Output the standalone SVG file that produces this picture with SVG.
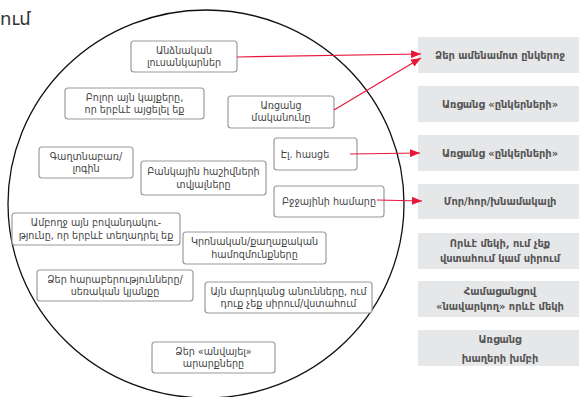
<svg xmlns="http://www.w3.org/2000/svg" width="579" height="397" viewBox="0 0 579 397">
<style>
.bx{fill:#fff;stroke:#9a9a9a;stroke-width:1.2}
.gb{fill:#e6e7e8}
.t{font-family:"DejaVu Sans","Noto Sans",sans-serif;font-size:9.6px;fill:#444;text-anchor:middle}
.g{font-family:"DejaVu Sans","Noto Sans",sans-serif;font-size:9.9px;font-weight:bold;fill:#555;text-anchor:middle}
.c{stroke:#e8173a;stroke-width:1.2;fill:none;marker-end:url(#ah)}
</style>
<defs>
<marker id="ah" viewBox="0 0 10 8" refX="10" refY="4" markerWidth="10" markerHeight="8" markerUnits="userSpaceOnUse" orient="auto">
<path d="M0,0 L10,4 L0,8 z" fill="#e8173a"/>
</marker>
</defs>
<rect width="579" height="397" fill="#fff"/>
<text x="0" y="25" font-family="DejaVu Sans,sans-serif" font-size="18" fill="#333">ում</text>
<ellipse cx="206" cy="204" rx="198" ry="194" fill="none" stroke="#111" stroke-width="1.3"/>

<g id="n1"><rect class="bx" x="131" y="41" width="106" height="31" rx="3"/><text class="t" x="184" y="54">Անձնական</text><text class="t" x="184" y="66">լուսանկարներ</text></g>
<g id="n2"><rect class="bx" x="65" y="88" width="139" height="31" rx="3"/><text class="t" x="134.5" y="101">Բոլոր այն կայքերը,</text><text class="t" x="134.5" y="113">որ երբևէ այցելել եք</text></g>
<g id="n3"><rect class="bx" x="228" y="96" width="106" height="32" rx="3"/><text class="t" x="281" y="109">Առցանց</text><text class="t" x="281" y="121">մականունը</text></g>
<g id="n4"><rect class="bx" x="274" y="138" width="83" height="32" rx="3"/><text class="t" x="305" y="158">Էլ. հասցե</text></g>
<g id="n5"><rect class="bx" x="274" y="186" width="110" height="31" rx="3"/><text class="t" x="329" y="205">Բջջայինի համարը</text></g>
<g id="n6"><rect class="bx" x="39" y="147" width="94" height="31" rx="3"/><text class="t" x="86" y="160">Գաղտնաբառ/</text><text class="t" x="86" y="172">լոգին</text></g>
<g id="n7"><rect class="bx" x="141" y="161" width="125" height="34" rx="3"/><text class="t" x="203.5" y="175">Բանկային հաշիվների</text><text class="t" x="203.5" y="188">տվյալները</text></g>
<g id="n8"><rect class="bx" x="12" y="213" width="168" height="32" rx="3"/><text class="t" x="96" y="226">Ամբողջ այն բովանդակու-</text><text class="t" x="96" y="239">թյունը, որ երբևէ տեղադրել եք</text></g>
<g id="n9"><rect class="bx" x="183" y="232" width="143" height="32" rx="3"/><text class="t" x="254.5" y="245">Կրոնական/քաղաքական</text><text class="t" x="254.5" y="258">համոզմունքները</text></g>
<g id="n10"><rect class="bx" x="37" y="270" width="156" height="31" rx="3"/><text class="t" x="115" y="283">Ձեր հարաբերությունները/</text><text class="t" x="115" y="295">սեռական կյանքը</text></g>
<g id="n11"><rect class="bx" x="205" y="282" width="167" height="31" rx="3"/><text class="t" x="288.5" y="295">Այն մարդկանց անունները, ում</text><text class="t" x="288.5" y="307">դուք չեք սիրում/վստահում</text></g>
<g id="n12"><rect class="bx" x="152" y="342" width="123" height="31" rx="3"/><text class="t" x="213.5" y="355">Ձեր «անվայել»</text><text class="t" x="213.5" y="367">արարքները</text></g>

<g id="r1"><rect class="gb" x="418" y="37" width="161" height="36"/><text class="g" x="500" y="58.5">Ձեր ամենամոտ ընկերոջ</text></g>
<g id="r2"><rect class="gb" x="418" y="86" width="161" height="36"/><text class="g" x="500" y="107.5">Առցանց «ընկերների»</text></g>
<g id="r3"><rect class="gb" x="418" y="135" width="161" height="36"/><text class="g" x="500" y="156.5">Առցանց «ընկերների»</text></g>
<g id="r4"><rect class="gb" x="418" y="184" width="161" height="35"/><text class="g" x="500" y="205">Մոր/հոր/խնամակալի</text></g>
<g id="r5"><rect class="gb" x="418" y="233" width="161" height="36"/><text class="g" x="500" y="247">Որևէ մեկի, ում չեք</text><text class="g" x="500" y="262">վստահում կամ սիրում</text></g>
<g id="r6"><rect class="gb" x="418" y="281" width="161" height="36"/><text class="g" x="500" y="295">Համացանցով</text><text class="g" x="500" y="310">«նավարկող» որևէ մեկի</text></g>
<g id="r7"><rect class="gb" x="418" y="330" width="161" height="36"/><text class="g" x="500" y="343">Առցանց</text><text class="g" x="500" y="362">խաղերի խմբի</text></g>

<g id="connectors">
<path class="c" d="M237,57 L421,54"/>
<path class="c" d="M334,110 L421,58"/>
<path class="c" d="M350,154 L420,153"/>
<path class="c" d="M377,200 L422,201"/>
</g>
</svg>
